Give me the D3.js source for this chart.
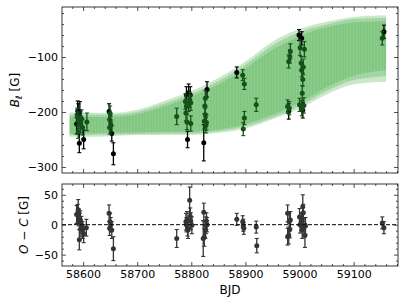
<!DOCTYPE html>
<html><head><meta charset="utf-8">
<script src="https://cdn.jsdelivr.net/npm/d3@7"></script>
<style>
body{margin:0;background:#fff;}
svg{display:block;font-family:"DejaVu Sans",sans-serif;}
.tick text{font-size:11px;fill:#000;}
</style></head>
<body><svg id="c" width="407" height="305"></svg>
<script>
// ---- data ----
const xTicks = [58600, 58700, 58800, 58900, 59000, 59100];
const topYTicks = [-100, -200, -300];
const botYTicks = [50, 0, -50];

// model band (BJD, bounds of the three credible regions in G)
const bandX    = [58575, 58600, 58650, 58700, 58750, 58800, 58850, 58900, 58950, 59000, 59050, 59100, 59160];
const outerHi  = [-201, -201, -202, -196, -180, -162, -138, -108,  -72,  -49,  -36,  -27,  -24];
const outerLo  = [-245, -245, -244, -242, -242, -242, -238, -230, -213, -194, -168, -150, -145];
const midHi    = [-205, -205, -205, -200, -185, -167, -144, -114,  -79,  -55,  -41,  -31,  -29];
const midLo    = [-242, -242, -241, -240, -239, -239, -235, -226, -210, -189, -162, -142, -135];
const innerHi  = [-209, -209, -209, -204, -190, -172, -150, -121,  -87,  -62,  -46,  -37,  -35];
const innerLo  = [-239, -239, -238, -237, -236, -236, -232, -222, -205, -183, -155, -134, -124];

// observations instrument A (black): [BJD, B_l, err]
const obsBlack = [
  [58588,-222,18],[58590,-198,18],[58594,-199,18],[58593,-257,17],[58601,-250,17],[58591,-205,20],
  [58648,-199,14],[58653,-239,14],[58656,-276,20],
  [58791,-169,15],[58798,-169,15],[58793,-250,15],[58795,-165,16],
  [58829,-159,14],[58823,-256,33],
  [58884,-128,10],
  [58980,-199,14],
  [58999,-60,10],[59004,-66,12],[59006,-197,14],
  [59156,-54,12]
];
// observations instrument B (green): [BJD, B_l, err]
const obsGreen = [
  [58589,-209,16],[58592,-215,15],[58595,-222,15],[58597,-212,16],[58599,-228,14],[58607,-218,16],[58591,-236,12],
  [58650,-203,14],[58650,-215,14],[58651,-222,14],[58649,-228,12],
  [58773,-208,15],
  [58789,-181,14],[58790,-202,14],[58791,-190,14],[58792,-218,14],[58795,-185,14],[58797,-178,14],[58799,-183,14],[58799,-221,14],
  [58826,-175,14],[58825,-189,14],[58824,-217,14],[58827,-224,14],[58828,-219,14],[58826,-205,12],
  [58895,-133,10],[58898,-149,10],[58898,-211,12],[58896,-231,12],
  [58920,-187,12],
  [58983,-90,14],[58980,-108,12],[58982,-99,12],[58978,-190,12],[58981,-193,12],
  [59001,-83,14],[59009,-86,14],[59003,-111,12],[59004,-124,12],[59005,-166,14],[59000,-187,12],[59004,-193,14],[59008,-188,14],[59006,-141,12],[59007,-118,14],
  [59153,-66,12]
];
// residuals O-C: [BJD, O-C, err]
const resid = [
  [58588,17,15],[58590,19,15],[58591,25,17],[58594,5,14],[58596,-6,14],[58593,-25,17],[58597,0,14],[58599,-9,14],[58601,-15,15],[58606,-5,14],[58595,8,15],[58592,12,14],
  [58648,19,14],[58650,5,14],[58649,-6,12],[58651,0,12],[58653,-9,14],[58656,-40,20],
  [58773,-23,15],
  [58790,5,14],[58792,8,14],[58794,-9,14],[58797,41,22],[58798,14,14],[58799,6,14],[58801,-1,14],[58793,-5,14],[58791,0,12],
  [58823,21,15],[58822,-23,30],[58824,-21,15],[58826,-9,14],[58827,-1,14],[58828,6,14],[58829,0,12],
  [58884,9,10],[58895,5,10],[58896,-1,10],[58897,-6,10],[58920,-4,10],[58921,-35,12],
  [58978,19,14],[58978,-20,14],[58980,-18,14],[58981,5,14],[58982,-8,14],[58983,8,14],
  [59000,13,14],[59001,0,14],[59003,5,14],[59006,30,20],[59007,20,14],[59008,-3,14],[59010,-18,20],[59005,-9,14],[59011,-2,14],[59004,8,12],
  [59153,3,10],[59156,-5,10]
];

// ---- layout ----
const svg = d3.select("#c");
const L = 62, R = 398;
const topP = {t: 7, b: 173};
const botP = {t: 184, b: 266};
const W = R - L;

const x = d3.scaleLinear().domain([58561, 59182]).range([0, W]);
const yT = d3.scaleLinear().domain([-311, -9]).range([topP.b - topP.t, 0]);
const yB = d3.scaleLinear().domain([-69, 68]).range([botP.b - botP.t, 0]);

function minorRange(a, b, s){ const r=[]; for(let v=a; v<=b+1e-9; v+=s) r.push(Math.round(v*1000)/1000); return r; }
const xMinor = minorRange(58580, 59180, 20).filter(v => !xTicks.includes(v));

function frame(g, h, yScale, yTicks, yMinor, showX){
  const ax = [
    [d3.axisBottom(x).tickValues(xTicks).tickSize(-4).tickPadding(4).tickFormat(showX ? d3.format("d") : ""), `translate(0,${h})`],
    [d3.axisBottom(x).tickValues(xMinor).tickSize(-2).tickFormat(""), `translate(0,${h})`],
    [d3.axisTop(x).tickValues(xTicks).tickSize(-4).tickFormat(""), null],
    [d3.axisTop(x).tickValues(xMinor).tickSize(-2).tickFormat(""), null],
    [d3.axisLeft(yScale).tickValues(yTicks).tickSize(-4).tickPadding(4), null],
    [d3.axisLeft(yScale).tickValues(yMinor).tickSize(-2).tickFormat(""), null],
    [d3.axisRight(yScale).tickValues(yTicks).tickSize(-4).tickFormat(""), `translate(${W},0)`],
    [d3.axisRight(yScale).tickValues(yMinor).tickSize(-2).tickFormat(""), `translate(${W},0)`]
  ];
  ax.forEach(([a, tr]) => {
    const gg = g.append("g").call(a);
    if (tr) gg.attr("transform", tr);
    gg.select(".domain").remove();
    gg.selectAll(".tick line").attr("stroke", "#222").attr("stroke-width", 0.8);
    gg.selectAll(".tick text").style("font-family", '"DejaVu Sans", sans-serif').style("font-size", "11px");
  });
  g.append("rect").attr("x",0).attr("y",0).attr("width",W).attr("height",h)
    .attr("fill","none").attr("stroke","#222").attr("stroke-width",0.9);
}

// ---- top panel ----
const gT = svg.append("g").attr("transform", `translate(${L},${topP.t})`);
const hT = topP.b - topP.t;
const defs = svg.append("defs");
defs.append("clipPath").attr("id","clT").append("rect").attr("width",W).attr("height",hT);
// faint vertical striping like the many stacked fills of the original
const pat = defs.append("pattern").attr("id","stripes").attr("patternUnits","userSpaceOnUse")
  .attr("width",3).attr("height",10);
pat.append("rect").attr("width",3).attr("height",10).attr("fill","#2ca02c");
pat.append("rect").attr("width",0.7).attr("height",10).attr("fill","#ffffff").attr("opacity",0.12);

const bandData = bandX.map((v,i)=>({x:v, oh:outerHi[i], ol:outerLo[i], mh:midHi[i], ml:midLo[i], ih:innerHi[i], il:innerLo[i]}));
const gBand = gT.append("g").attr("clip-path","url(#clT)");
const levels = [["oh","ol"],["mh","ml"],["ih","il"]];
levels.forEach(([hi, lo]) => {
  gBand.append("path").datum(bandData)
    .attr("d", d3.area().curve(d3.curveMonotoneX).x(d=>x(d.x)).y0(d=>yT(d[lo])).y1(d=>yT(d[hi])))
    .attr("fill", "url(#stripes)").attr("fill-opacity", 0.26);
});

function errbars(g, data, ys, col, opacity){
  const grp = g.append("g").attr("opacity", opacity);
  data.forEach(d => {
    const cx = x(d[0]), y1 = ys(d[1]-d[2]), y2 = ys(d[1]+d[2]);
    grp.append("line").attr("x1",cx).attr("x2",cx).attr("y1",y1).attr("y2",y2).attr("stroke",col).attr("stroke-width",1.3);
    [y1,y2].forEach(yy => grp.append("line").attr("x1",cx-2).attr("x2",cx+2).attr("y1",yy).attr("y2",yy).attr("stroke",col).attr("stroke-width",1.1));
  });
  grp.selectAll("circle.pt").data(data).join("circle").attr("class","pt")
    .attr("cx", d=>x(d[0])).attr("cy", d=>ys(d[1])).attr("r", 2.5).attr("fill", col);
}
errbars(gT, obsBlack, yT, "#000", 1);
errbars(gT, obsGreen, yT, "#16501a", 1);

frame(gT, hT, yT, topYTicks, minorRange(-300, -20, 20).filter(v=>!topYTicks.includes(v)), false);

// ---- bottom panel ----
const gB = svg.append("g").attr("transform", `translate(${L},${botP.t})`);
const hB = botP.b - botP.t;
gB.append("line").attr("x1",0).attr("x2",W).attr("y1",yB(0)).attr("y2",yB(0))
  .attr("stroke","#000").attr("stroke-width",1).attr("stroke-dasharray","4,2");
errbars(gB, resid, yB, "#111", 0.85);
frame(gB, hB, yB, botYTicks, minorRange(-60, 60, 10).filter(v=>!botYTicks.includes(v)), true);

// ---- labels ----
const yl1 = svg.append("text").attr("transform", `translate(19,${(topP.t+topP.b)/2}) rotate(-90)`)
  .attr("text-anchor","middle").style("font-size","12px");
yl1.append("tspan").attr("font-style","italic").text("B");
yl1.append("tspan").attr("font-style","italic").attr("dy", 3).style("font-size","9px").text("ℓ");
yl1.append("tspan").attr("dy", -3).text(" [G]");

const yl2 = svg.append("text").attr("transform", `translate(28,${(botP.t+botP.b)/2}) rotate(-90)`)
  .attr("text-anchor","middle").style("font-size","12px");
yl2.append("tspan").attr("font-style","italic").text("O");
yl2.append("tspan").text(" − ");
yl2.append("tspan").attr("font-style","italic").text("C");
yl2.append("tspan").text(" [G]");

svg.append("text").attr("x", (L+R)/2).attr("y", 294).attr("text-anchor","middle")
  .style("font-size","12px").text("BJD");
</script></body></html>
